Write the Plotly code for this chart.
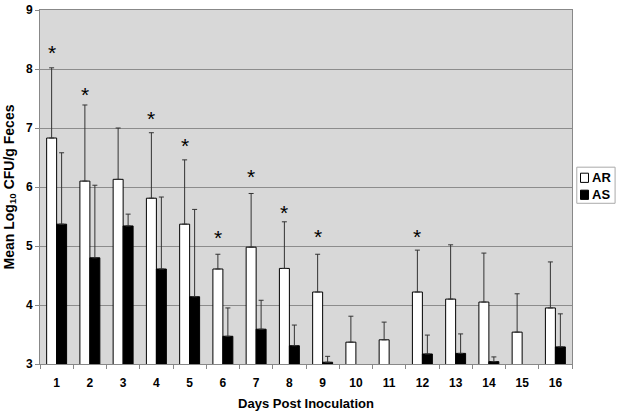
import plotly.graph_objects as go

days = [str(d) for d in range(1, 17)]
ar_mean = [6.83, 6.10, 6.13, 5.81, 5.37, 4.61, 4.98, 4.62, 4.22, 3.37, 3.41, 4.22, 4.10, 4.05, 3.54, 3.95]
ar_upper = [8.02, 7.39, 7.00, 6.92, 6.46, 4.86, 5.89, 5.41, 4.86, 3.81, 3.71, 4.93, 5.02, 4.88, 4.19, 4.73]
as_mean = [5.37, 4.80, 5.34, 4.61, 4.14, 3.47, 3.59, 3.31, 3.03, None, None, 3.17, 3.18, 3.04, None, 3.29]
as_upper = [6.58, 6.03, 5.54, 5.83, 5.62, 3.95, 4.08, 3.66, 3.13, None, None, 3.49, 3.51, 3.12, None, 3.85]
star_days = ["1", "2", "4", "5", "6", "7", "8", "9", "12"]
star_y = [8.32, 7.60, 7.19, 6.74, 5.17, 6.21, 5.61, 5.19, 5.19]
series_names = ["AR", "AS"]

ar_err = [u - m for u, m in zip(ar_upper, ar_mean)]
as_err = [(u - m) if m is not None else None for u, m in zip(as_upper, as_mean)]

FONT = "Liberation Sans, Arial, sans-serif"

fig = go.Figure()
fig.add_trace(go.Bar(
    x=days, y=ar_mean, name=series_names[0],
    marker=dict(color="white", line=dict(color="black", width=1)),
    error_y=dict(type="data", symmetric=False, array=ar_err,
                 arrayminus=[0] * len(ar_err), color="#333333", thickness=1, width=2.5),
))
fig.add_trace(go.Bar(
    x=days, y=as_mean, name=series_names[1],
    marker=dict(color="black", line=dict(color="black", width=1)),
    error_y=dict(type="data", symmetric=False, array=as_err,
                 arrayminus=[0] * len(as_err), color="#333333", thickness=1, width=2.5),
))

for d, sy in zip(star_days, star_y):
    fig.add_annotation(x=days.index(d), y=sy, text="*", showarrow=False, xshift=-5, yshift=-2,
                       font=dict(family=FONT, size=21, color="black"),
                       yanchor="middle")

# Compact legend (box with swatches and labels), placed right of the plot
fig.add_shape(type="rect", xref="paper", yref="paper", x0=1.009, x1=1.081, y0=0.454, y1=0.556,
              line=dict(color="#aaaaaa", width=1), fillcolor="white")
swatch_fill = ["white", "black"]
swatch_y = [0.526, 0.478]
for name, fill, sy in zip(series_names, swatch_fill, swatch_y):
    fig.add_shape(type="rect", xref="paper", yref="paper", x0=1.016, x1=1.031,
                  y0=sy - 0.013, y1=sy + 0.013, line=dict(color="black", width=1), fillcolor=fill)
    fig.add_annotation(xref="paper", yref="paper", x=1.033, y=sy, text=name, showarrow=False,
                       xanchor="left", yanchor="middle",
                       font=dict(family=FONT, size=13, weight="bold", color="black"))

fig.update_layout(
    width=619, height=411,
    margin=dict(l=40, r=47, t=10, b=47),
    paper_bgcolor="white", plot_bgcolor="#d8d8d8",
    barmode="group", bargap=0.4, bargroupgap=0,
    font=dict(family=FONT, size=11, color="black"),
    showlegend=False,
)
fig.update_xaxes(
    type="category", tickson="boundaries", ticks="outside", ticklen=4,
    tickcolor="#888888", showline=True, linecolor="#888888", mirror=True,
    tickfont=dict(family=FONT, size=12, weight="bold"), ticklabelstandoff=8,
    title=dict(text="Days Post Inoculation", font=dict(family=FONT, size=13, weight="bold"), standoff=12),
    showgrid=False, automargin=False,
)
fig.update_yaxes(
    range=[3, 9], dtick=1, ticks="outside", ticklen=4, tickcolor="#888888",
    showline=True, linecolor="#888888", mirror=True,
    showgrid=True, gridcolor="#8c8c8c", gridwidth=1,
    tickfont=dict(family=FONT, size=12, weight="bold"),
    title=dict(text="Mean Log<sub>10</sub> CFU/g Feces", font=dict(family=FONT, size=14, weight="bold"), standoff=8),
    zeroline=False, automargin=False,
)

fig.write_html("out.html", config={"displayModeBar": False},
               post_script="document.body.style.margin='0';")
